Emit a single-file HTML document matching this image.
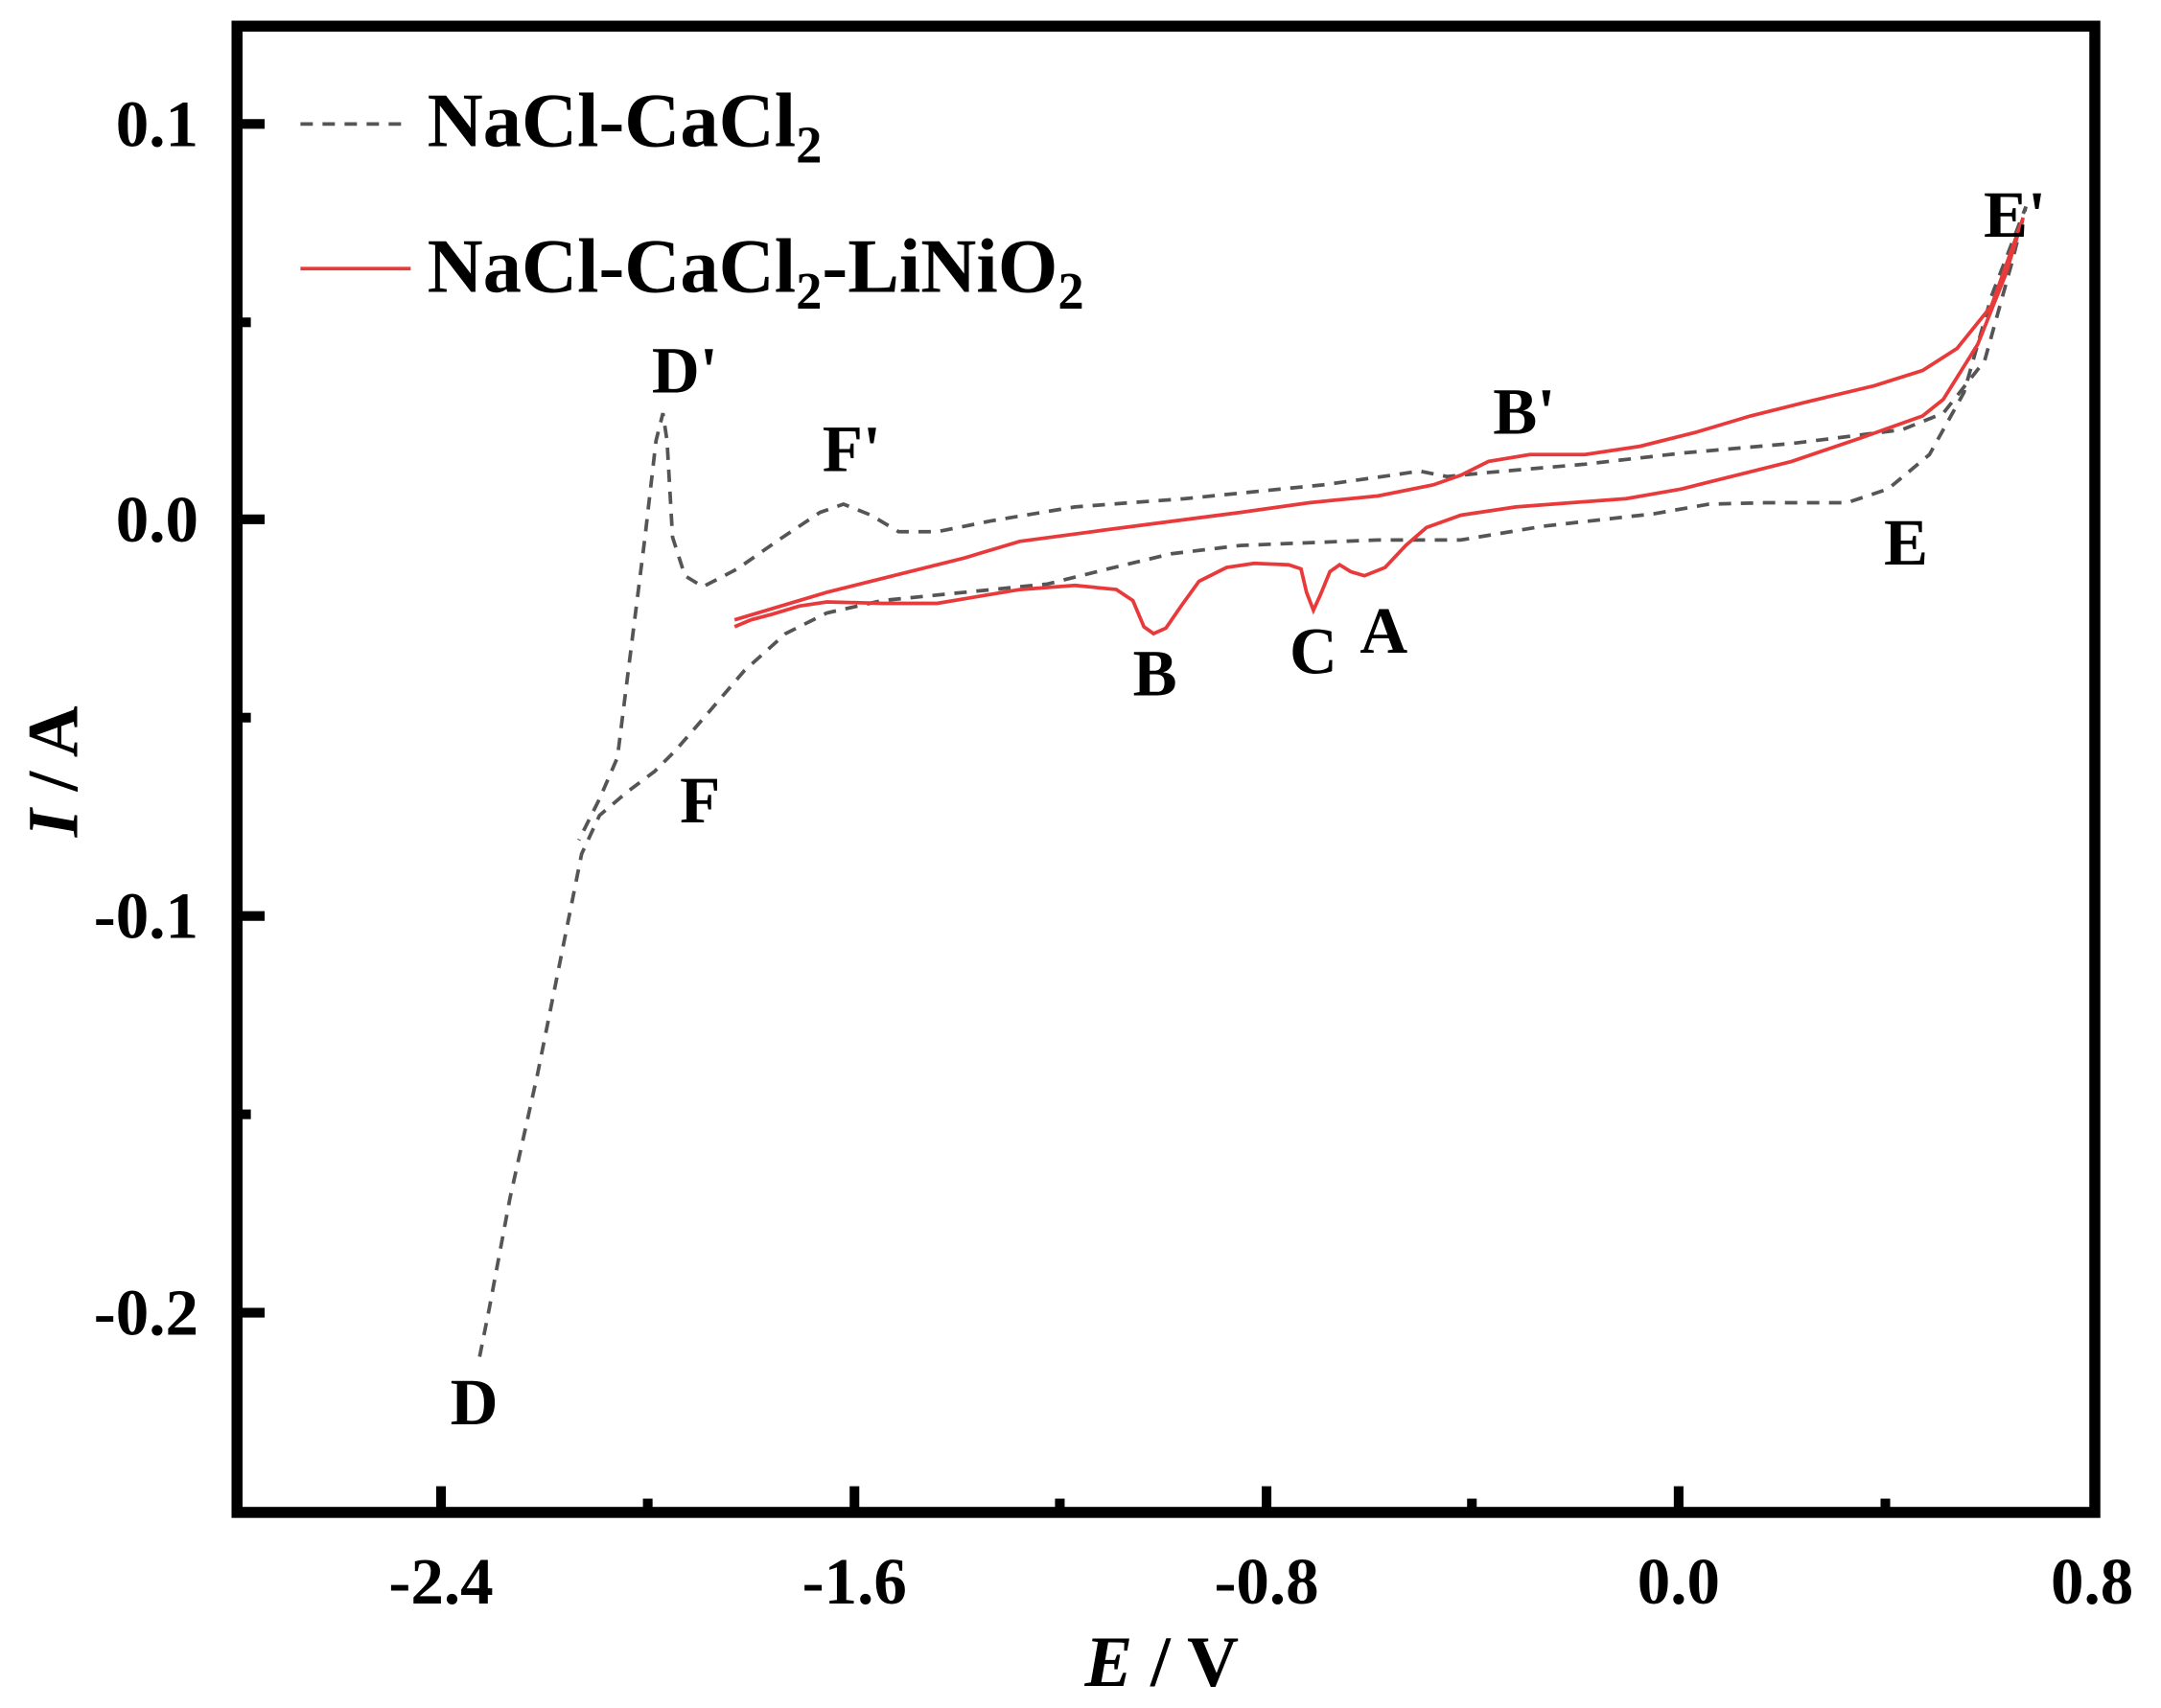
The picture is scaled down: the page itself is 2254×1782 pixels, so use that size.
<!DOCTYPE html>
<html><head><meta charset="utf-8"><style>
html,body{margin:0;padding:0;background:#fff;}
svg{display:block;}
text{font-family:"Liberation Serif",serif;font-weight:bold;fill:#000;}
</style></head><body>
<svg width="2254" height="1782" viewBox="0 0 1568 1240" preserveAspectRatio="none" xmlns="http://www.w3.org/2000/svg">
<rect x="0" y="0" width="1568" height="1240" fill="#fff"/>
<g stroke="#000" stroke-width="7">
<line x1="320" y1="1098" x2="320" y2="1079"/><line x1="620" y1="1098" x2="620" y2="1079"/><line x1="919" y1="1098" x2="919" y2="1079"/><line x1="1218" y1="1098" x2="1218" y2="1079"/>
<line x1="470" y1="1098" x2="470" y2="1088"/><line x1="769" y1="1098" x2="769" y2="1088"/><line x1="1068" y1="1098" x2="1068" y2="1088"/><line x1="1368" y1="1098" x2="1368" y2="1088"/>
<line x1="172" y1="90" x2="192" y2="90"/><line x1="172" y1="377" x2="192" y2="377"/><line x1="172" y1="665" x2="192" y2="665"/><line x1="172" y1="953" x2="192" y2="953"/>
<line x1="172" y1="234" x2="182" y2="234"/><line x1="172" y1="521" x2="182" y2="521"/><line x1="172" y1="809" x2="182" y2="809"/>
</g>
<rect x="172" y="19" width="1348" height="1079" fill="none" stroke="#000" stroke-width="8"/>
<g font-size="48" text-anchor="end">
<text x="144" y="106">0.1</text><text x="144" y="393">0.0</text><text x="144" y="681">-0.1</text><text x="144" y="969">-0.2</text>
</g>
<g font-size="48" text-anchor="middle">
<text x="320" y="1164">-2.4</text><text x="620" y="1164">-1.6</text><text x="919" y="1164">-0.8</text><text x="1218" y="1164">0.0</text><text x="1518" y="1164">0.8</text>
</g>
<text x="843" y="1224" font-size="52" text-anchor="middle"><tspan font-style="italic">E</tspan> / V</text>
<text transform="translate(56,560) rotate(-90)" font-size="52" text-anchor="middle"><tspan font-style="italic">I</tspan> / A</text>
<path fill="none" stroke="#555" stroke-width="2.6" stroke-dasharray="9,7" d="M348,985 L355,950 L370,870 L390,780 L410,680 L422,620 L435,592 L455,575 L475,560 L490,545 L510,522 L540,487 L570,460 L600,445 L640,436 L700,430 L760,424 L800,414 L850,402 L900,396 L1000,392 L1060,392 L1120,382 L1200,373 L1240,366 L1280,365 L1340,365 L1370,355 L1400,330 L1425,285 L1445,215 L1470,150 L1460,190 L1440,262 L1410,300 L1380,312 L1300,322 L1220,329 L1150,337 L1080,343 L1050,346 L1030,342 L1010,345 L960,352 L860,362 L780,368 L720,378 L680,386 L652,386 L632,374 L612,366 L595,372 L565,392 L535,413 L510,426 L497,418 L488,390 L484,320 L481,300 L476,320 L468,390 L458,470 L448,550 L435,580 L420,610"/>
<path fill="none" stroke="#e83a3a" stroke-width="2.6" d="M533,450 L600,430 L700,405 L740,393 L800,385 L900,372 L950,365 L1000,360 L1040,352 L1060,345 L1080,335 L1110,330 L1150,330 L1190,324 L1230,314 L1270,302 L1310,292 L1360,280 L1395,269 L1420,253 L1445,222 L1468,158 L1455,200 L1435,250 L1410,290 L1395,302 L1350,318 L1300,335 L1260,345 L1220,355 L1180,362 L1100,368 L1060,374 L1035,383 L1020,396 L1005,412 L990,418 L980,415 L972,410 L965,415 L958,432 L953,443 L948,430 L944,413 L935,410 L910,409 L890,412 L870,422 L857,440 L846,456 L837,460 L830,455 L822,436 L810,428 L780,425 L740,428 L680,438 L640,438 L600,437 L580,440 L560,446 L545,450 L533,455"/>
<line x1="218" y1="90" x2="298" y2="90" stroke="#555" stroke-width="2.6" stroke-dasharray="9,7"/>
<text x="310" y="106" font-size="56">NaCl-CaCl<tspan font-size="38" dy="12">2</tspan></text>
<line x1="218" y1="195" x2="298" y2="195" stroke="#e83a3a" stroke-width="2.6"/>
<text x="310" y="212" font-size="56">NaCl-CaCl<tspan font-size="38" dy="12">2</tspan><tspan dy="-12">-LiNiO</tspan><tspan font-size="38" dy="12">2</tspan></text>
<g font-size="48" text-anchor="middle">
<text x="497" y="285">D'</text><text x="618" y="342">F'</text><text x="1106" y="315">B'</text><text x="1462" y="172">E'</text>
<text x="1383" y="410">E</text><text x="1004" y="474">A</text><text x="953" y="489">C</text><text x="838" y="505">B</text>
<text x="508" y="597">F</text><text x="344" y="1034" font-weight="normal">D</text>
</g>
</svg>
</body></html>
